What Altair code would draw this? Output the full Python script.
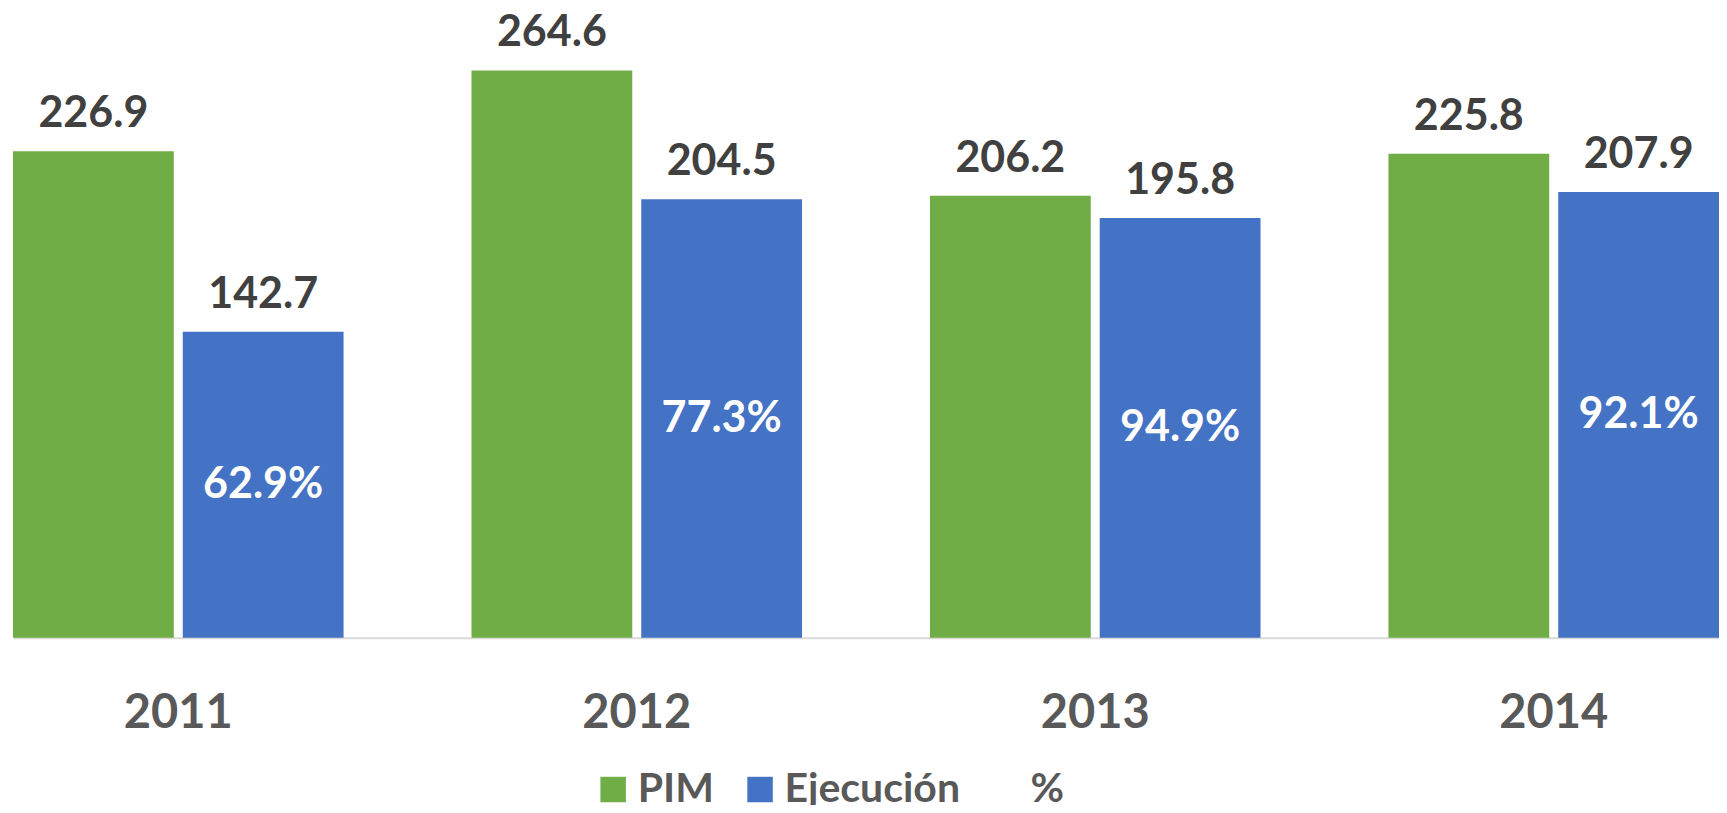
import altair as alt
import pandas as pd

years = ["2011", "2012", "2013", "2014"]
pim = [226.9, 264.6, 206.2, 225.8]
ejecucion = [142.7, 204.5, 195.8, 207.9]
porcentaje = [62.9, 77.3, 94.9, 92.1]
series = ["PIM", "Ejecución", "%"]
colors = ["#70AD47", "#4472C4", "transparent"]

rows = []
for yr, p, e, pc in zip(years, pim, ejecucion, porcentaje):
    rows.append({"year": yr, "serie": "PIM", "value": p, "pct": None})
    rows.append({"year": yr, "serie": "Ejecución", "value": e, "pct": pc})
df = pd.DataFrame(rows)

FONT = "Lato"
W, H = 1707, 630
YMAX = 293.6

x = alt.X("year:N", sort=years, title=None,
          scale=alt.Scale(paddingInner=0.279, paddingOuter=0),
          axis=alt.Axis(labelAngle=0, labelFont=FONT, labelFontSize=47,
                        labelFontWeight="bold", labelColor="#595959",
                        labelPadding=90, labelBaseline="alphabetic",
                        ticks=False, tickSize=0, domainColor="#D9D9D9",
                        domainWidth=2, grid=False))
xo = alt.XOffset("serie:N", sort=["PIM", "Ejecución"],
                 scale=alt.Scale(paddingInner=0.053, paddingOuter=0))
y = alt.Y("value:Q", scale=alt.Scale(domain=[0, YMAX], nice=False, zero=True), axis=None)
color = alt.Color("serie:N",
                  scale=alt.Scale(domain=series, range=colors),
                  legend=alt.Legend(title=None, orient="none", legendX=580, legendY=761,
                                    direction="horizontal", symbolType="square",
                                    symbolSize=650, symbolStrokeWidth=0,
                                    labelFont=FONT, labelFontSize=41,
                                    labelFontWeight="bold", labelColor="#595959",
                                    labelOffset=4, labelLimit=0, columnPadding=25,
                                    padding=0))

base = alt.Chart(df)

bars = base.mark_bar().encode(x=x, xOffset=xo, y=y, color=color)

values = base.mark_text(font=FONT, fontSize=43, fontWeight="bold", color="#404040",
                        baseline="alphabetic", dy=-24).encode(
    x=x, xOffset=xo, y=y, text=alt.Text("value:Q", format=".1f"))

pcts = base.transform_filter(alt.datum.serie == "Ejecución").transform_calculate(
    half="datum.value / 2",
    label="format(datum.pct, '.1f') + '%'"
).mark_text(font=FONT, fontSize=43, fontWeight="bold", color="white",
            baseline="middle").encode(
    x=x, xOffset=xo, y=alt.Y("half:Q", scale=alt.Scale(domain=[0, YMAX], nice=False)),
    text="label:N")

chart = alt.layer(bars, values, pcts).properties(
    width=W, height=H,
    autosize=alt.AutoSizeParams(type="none"),
    padding={"left": 5, "top": 0, "right": 0, "bottom": 167},
    background="white",
).configure_view(stroke=None)

chart.save("out.html", embed_options={"renderer": "svg", "actions": False})
